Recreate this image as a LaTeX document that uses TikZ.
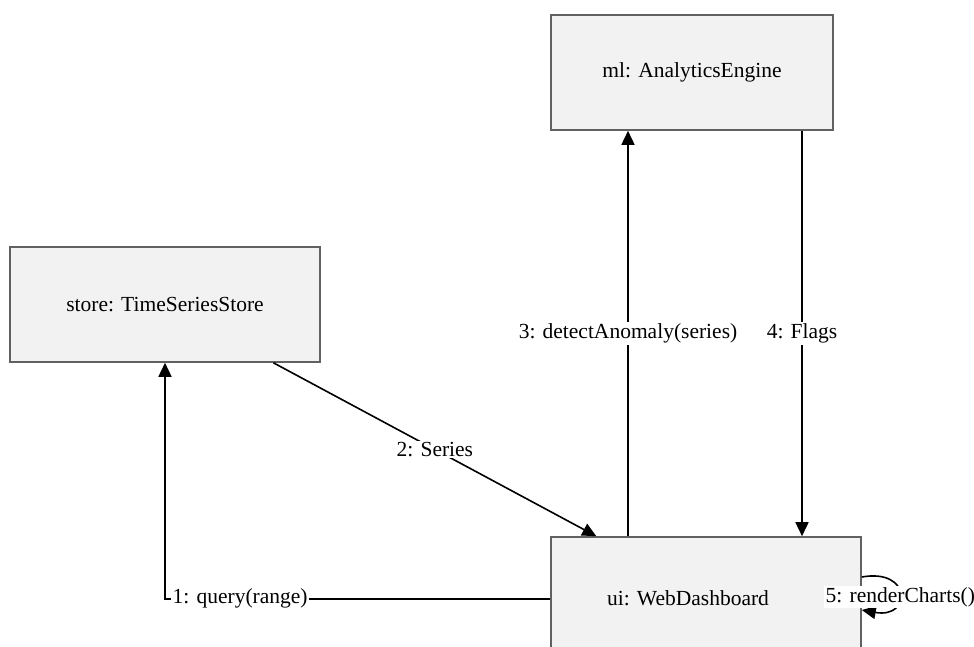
\documentclass[tikz,border=0pt]{standalone}
\usepackage{fontspec}
\setmainfont{Liberation Serif}
\usetikzlibrary{arrows.meta,calc}
\begin{document}
\begin{tikzpicture}[x=1pt,y=-1pt,
  obj/.style={draw=black!62,line width=1.6pt,fill=black!5,rectangle,inner sep=0pt,
    font=\fontsize{21.5}{24}\selectfont},
  msg/.style={line width=1.6pt,-{Triangle[length=14pt,width=13pt]}},
  lbl/.style={fill=white,inner sep=1.5pt,font=\fontsize{21.5}{24}\selectfont}]
\useasboundingbox (0,0) rectangle (974,647);
\clip (0,0) rectangle (974,647);
\fill[white] (0,0) rectangle (974,647);
% objects
\node[obj,minimum width=310pt,minimum height=115pt] (store) at (165,304.5) {store: TimeSeriesStore};
\node[obj,minimum width=282pt,minimum height=115pt] (ml) at (692,72.5) {ml: AnalyticsEngine};
\node[obj,minimum width=310pt,minimum height=124pt] (ui) at (706,599) {};
\node[font=\fontsize{21.5}{24}\selectfont] (uilbl) at (688,598) {ui: WebDashboard};
% message columns
\coordinate (c3) at (628,0);
\coordinate (c4) at (802,0);
% 1: query
\draw[msg] (ui.west) -| (store.south);
\node[lbl,anchor=west] (l1) at (171,598) {1: query(range)};
% 2: series
\draw[msg] ($(store.south west)!0.848!(store.south east)$) -- ($(ui.north west)!0.148!(ui.north east)$)
  node[lbl,pos=0.5] (l2) {2: Series};
% 3: detectAnomaly
\draw[msg] (c3 |- ui.north) -- (c3 |- ml.south) node[lbl,pos=0.5] (l3) {3: detectAnomaly(series)};
% 4: flags
\draw[msg] (c4 |- ml.south) -- (c4 |- ui.north) node[lbl,pos=0.5] (l4) {4: Flags};
% 5: self call
\coordinate (s1) at (ui.east |- 0,577);
\coordinate (s2) at (ui.east |- 0,610);
\draw[msg] (s1) .. controls (912,568) and (912,619) .. (s2);
\node[lbl,anchor=west] (l5) at (824,597) {5: renderCharts()};
\end{tikzpicture}
\end{document}
